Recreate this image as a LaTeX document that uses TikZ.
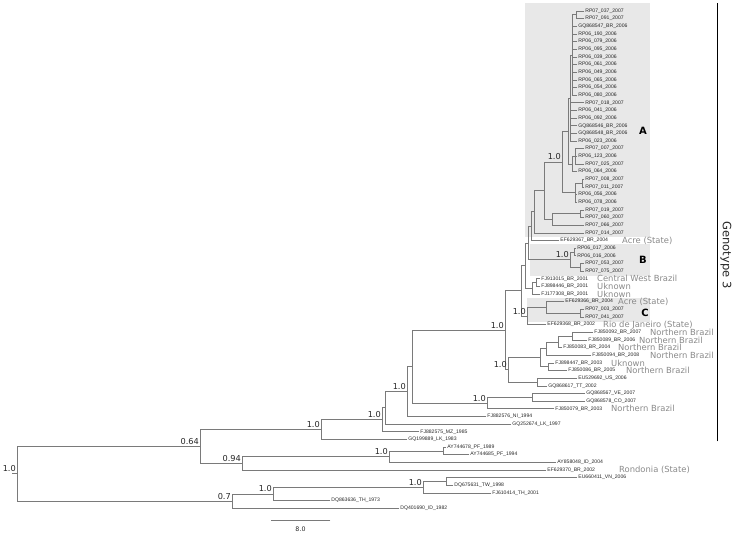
\documentclass[tikz,border=0pt]{standalone}
\usepackage{fontspec}
\setmainfont{DejaVu Sans}
\newfontfamily\tipfont{Liberation Sans}
\definecolor{branchgray}{HTML}{7A7A7A}
\definecolor{placegray}{HTML}{8A8A8A}
\definecolor{cladebg}{HTML}{E8E8E8}

\begin{document}
\begin{tikzpicture}[x=1pt, y=-1pt, line cap=rect,
  every node/.style={inner sep=0pt},
  tip/.style={anchor=west, inner xsep=1.2pt, font=\tipfont\fontsize{5.1}{6}\selectfont, text=black!85},
  place/.style={anchor=west, font=\fontsize{8.4}{10}\selectfont, text=placegray},
  supp/.style={anchor=base east, font=\fontsize{8.2}{10}\selectfont, text=black!85},
  clade/.style={font=\bfseries\fontsize{10}{12}\selectfont},
  br/.style={draw=branchgray, line width=0.75pt}]
  \useasboundingbox (0,0) rectangle (733,533);
  % shaded clades
  \fill[cladebg] (525,3) rectangle (650,237);
  \fill[cladebg] (530,244) rectangle (650,276);
  \fill[cladebg] (527,298) rectangle (650,322);

  % tips
  \node[tip] (t1) at (584,11.0) {RP07\_037\_2007};
  \node[tip] (t2) at (584,18.7) {RP07\_091\_2007};
  \node[tip] (t3) at (577,26.3) {GQ868547\_BR\_2006};
  \node[tip] (t4) at (577,34.0) {RP06\_190\_2006};
  \node[tip] (t5) at (577,41.6) {RP06\_079\_2006};
  \node[tip] (t6) at (577,49.3) {RP06\_095\_2006};
  \node[tip] (t7) at (577,56.9) {RP06\_039\_2006};
  \node[tip] (t8) at (577,64.6) {RP06\_061\_2006};
  \node[tip] (t9) at (577,72.2) {RP06\_049\_2006};
  \node[tip] (t10) at (577,79.9) {RP06\_065\_2006};
  \node[tip] (t11) at (577,87.5) {RP06\_054\_2006};
  \node[tip] (t12) at (577,95.2) {RP06\_080\_2006};
  \node[tip] (t13) at (584,102.8) {RP07\_018\_2007};
  \node[tip] (t14) at (577,110.5) {RP06\_041\_2006};
  \node[tip] (t15) at (577,118.1) {RP06\_092\_2006};
  \node[tip] (t16) at (577,125.8) {GQ868546\_BR\_2006};
  \node[tip] (t17) at (577,133.4) {GQ868548\_BR\_2006};
  \node[tip] (t18) at (577,141.1) {RP06\_023\_2006};
  \node[tip] (t19) at (584,148.7) {RP07\_007\_2007};
  \node[tip] (t20) at (577,156.4) {RP06\_123\_2006};
  \node[tip] (t21) at (584,164.0) {RP07\_025\_2007};
  \node[tip] (t22) at (577,171.7) {RP06\_064\_2006};
  \node[tip] (t23) at (584,179.3) {RP07\_008\_2007};
  \node[tip] (t24) at (584,187.0) {RP07\_011\_2007};
  \node[tip] (t25) at (577,194.6) {RP06\_056\_2006};
  \node[tip] (t26) at (577,202.3) {RP06\_078\_2006};
  \node[tip] (t27) at (584,209.9) {RP07\_019\_2007};
  \node[tip] (t28) at (584,217.6) {RP07\_060\_2007};
  \node[tip] (t29) at (584,225.2) {RP07\_066\_2007};
  \node[tip] (t30) at (584,232.9) {RP07\_014\_2007};
  \node[tip] (t31) at (559,240.5) {EF629367\_BR\_2004};
  \node[tip] (t32) at (576,248.2) {RP06\_017\_2006};
  \node[tip] (t33) at (576,255.8) {RP06\_016\_2006};
  \node[tip] (t34) at (584,263.5) {RP07\_053\_2007};
  \node[tip] (t35) at (584,271.1) {RP07\_075\_2007};
  \node[tip] (t36) at (540,278.8) {FJ913015\_BR\_2001};
  \node[tip] (t37) at (540,286.4) {FJ898446\_BR\_2001};
  \node[tip] (t38) at (540,294.1) {FJ177308\_BR\_2001};
  \node[tip] (t39) at (564,301.7) {EF629366\_BR\_2004};
  \node[tip] (t40) at (584,309.4) {RP07\_003\_2007};
  \node[tip] (t41) at (584,317.0) {RP07\_041\_2007};
  \node[tip] (t42) at (546,324.7) {EF629368\_BR\_2002};
  \node[tip] (t43) at (593,332.3) {FJ850092\_BR\_2007};
  \node[tip] (t44) at (587,340.0) {FJ850089\_BR\_2006};
  \node[tip] (t45) at (562,347.6) {FJ850083\_BR\_2004};
  \node[tip] (t46) at (591,355.3) {FJ850094\_BR\_2008};
  \node[tip] (t47) at (554,362.9) {FJ898447\_BR\_2003};
  \node[tip] (t48) at (567,370.6) {FJ850086\_BR\_2005};
  \node[tip] (t49) at (577,378.2) {EU529692\_US\_2006};
  \node[tip] (t50) at (547,385.9) {GQ868617\_TT\_2002};
  \node[tip] (t51) at (585,393.5) {GQ868567\_VE\_2007};
  \node[tip] (t52) at (585,401.2) {GQ868578\_CO\_2007};
  \node[tip] (t53) at (554,408.8) {FJ850079\_BR\_2003};
  \node[tip] (t54) at (486,416.5) {FJ882576\_NI\_1994};
  \node[tip] (t55) at (511,424.1) {GQ252674\_LK\_1997};
  \node[tip] (t56) at (419,431.8) {FJ882575\_MZ\_1985};
  \node[tip] (t57) at (407,439.4) {GQ199889\_LK\_1983};
  \node[tip] (t58) at (446,447.1) {AY744678\_PF\_1989};
  \node[tip] (t59) at (469,454.7) {AY744685\_PF\_1994};
  \node[tip] (t60) at (556,462.4) {AY858048\_ID\_2004};
  \node[tip] (t61) at (546,470.0) {EF629370\_BR\_2002};
  \node[tip] (t62) at (577,477.7) {EU660411\_VN\_2006};
  \node[tip] (t63) at (453,485.3) {DQ675631\_TW\_1998};
  \node[tip] (t64) at (491,493.0) {FJ610414\_TH\_2001};
  \node[tip] (t65) at (330,500.6) {DQ863636\_TH\_1973};
  \node[tip] (t66) at (399,508.3) {DQ401690\_ID\_1982};

  % places
  \node[place] (p31) at (622,240.5) {Acre (State)};
  \node[place] (p36) at (597,278.8) {Central West Brazil};
  \node[place] (p37) at (597,286.4) {Uknown};
  \node[place] (p38) at (597,294.1) {Uknown};
  \node[place] (p39) at (618,301.7) {Acre (State)};
  \node[place] (p42) at (603,324.7) {Rio de Janeiro (State)};
  \node[place] (p43) at (650,332.3) {Northern Brazil};
  \node[place] (p44) at (639,340.0) {Northern Brazil};
  \node[place] (p45) at (618,347.6) {Northern Brazil};
  \node[place] (p46) at (650,355.3) {Northern Brazil};
  \node[place] (p47) at (611,362.9) {Uknown};
  \node[place] (p48) at (626,370.6) {Northern Brazil};
  \node[place] (p53) at (611,408.8) {Northern Brazil};
  \node[place] (p61) at (619,470.0) {Rondonia (State)};

  % inner nodes
  \coordinate (a1) at (576,14.8);
  \coordinate (L1) at (572,55.0);
  \coordinate (L2) at (570,98.0);
  \coordinate (b1) at (575,156.4);
  \coordinate (bb) at (572,164.0);
  \coordinate (L3) at (568,131.0);
  \coordinate (c1) at (582,183.1);
  \coordinate (cc) at (575,192.7);
  \coordinate (beta) at (562,161.9);
  \coordinate (dd) at (580,213.7);
  \coordinate (gg) at (552,219.5);
  \coordinate (alpha) at (544,190.7);
  \coordinate (gamma) at (534,211.8);
  \coordinate (delta) at (531,226.1);
  \coordinate (bA) at (574,252.0);
  \coordinate (bB) at (580,267.3);
  \coordinate (cladeB) at (570,259.6);
  \coordinate (eps) at (528,242.9);
  \coordinate (f1) at (536,282.6);
  \coordinate (f2) at (532,288.3);
  \coordinate (zeta) at (525,265.6);
  \coordinate (C1) at (580,313.2);
  \coordinate (C2) at (546,307.4);
  \coordinate (cladeC) at (527,316.1);
  \coordinate (brz) at (521,290.8);
  \coordinate (nV) at (572,336.1);
  \coordinate (nU) at (558,341.9);
  \coordinate (nS) at (546,348.6);
  \coordinate (nT) at (548,366.7);
  \coordinate (nQ) at (540,357.6);
  \coordinate (nR) at (537,382.0);
  \coordinate (nP) at (508,369.8);
  \coordinate (g3b) at (505,330.3);
  \coordinate (nW) at (532,397.3);
  \coordinate (n487) at (487,403.1);
  \coordinate (n5) at (412,366.7);
  \coordinate (n4) at (407,391.6);
  \coordinate (n3p) at (385,407.8);
  \coordinate (n3) at (382,419.8);
  \coordinate (n2) at (321,429.6);
  \coordinate (pf) at (443,450.9);
  \coordinate (npf) at (389,456.6);
  \coordinate (n094) at (242,463.3);
  \coordinate (n064) at (200,446.5);
  \coordinate (n447) at (446,481.5);
  \coordinate (n423) at (423,487.2);
  \coordinate (n273) at (273,493.9);
  \coordinate (n07) at (232,501.1);
  \coordinate (root) at (17,473.8);
  \coordinate (rootstub) at (12,473.8);

  % branches
  \draw[br] (a1) |- (t1.west) (a1) |- (t2.west);
  \draw[br] (L1) |- (a1) (L1) |- (t3.west) (L1) |- (t4.west) (L1) |- (t5.west)
    (L1) |- (t6.west) (L1) |- (t7.west) (L1) |- (t8.west) (L1) |- (t9.west)
    (L1) |- (t10.west) (L1) |- (t11.west) (L1) |- (t12.west);
  \draw[br] (L2) |- (L1) (L2) |- (t13.west) (L2) |- (t14.west) (L2) |- (t15.west)
    (L2) |- (t16.west) (L2) |- (t17.west) (L2) |- (t18.west);
  \draw[br] (b1) |- (t19.west) (b1) |- (t20.west) (b1) |- (t21.west);
  \draw[br] (bb) |- (b1) (bb) |- (t22.west);
  \draw[br] (L3) |- (L2) (L3) |- (bb);
  \draw[br] (c1) |- (t23.west) (c1) |- (t24.west);
  \draw[br] (cc) |- (c1) (cc) |- (t25.west) (cc) |- (t26.west);
  \draw[br] (beta) |- (L3) (beta) |- (cc);
  \draw[br] (dd) |- (t27.west) (dd) |- (t28.west);
  \draw[br] (gg) |- (dd) (gg) |- (t29.west);
  \draw[br] (alpha) |- (beta) (alpha) |- (gg);
  \draw[br] (gamma) |- (alpha) (gamma) |- (t30.west);
  \draw[br] (delta) |- (gamma) (delta) |- (t31.west);
  \draw[br] (bA) |- (t32.west) (bA) |- (t33.west);
  \draw[br] (bB) |- (t34.west) (bB) |- (t35.west);
  \draw[br] (cladeB) |- (bA) (cladeB) |- (bB);
  \draw[br] (eps) |- (delta) (eps) |- (cladeB);
  \draw[br] (f1) |- (t36.west) (f1) |- (t37.west);
  \draw[br] (f2) |- (f1) (f2) |- (t38.west);
  \draw[br] (zeta) |- (eps) (zeta) |- (f2);
  \draw[br] (C1) |- (t40.west) (C1) |- (t41.west);
  \draw[br] (C2) |- (t39.west) (C2) |- (C1);
  \draw[br] (cladeC) |- (C2) (cladeC) |- (t42.west);
  \draw[br] (brz) |- (zeta) (brz) |- (cladeC);
  \draw[br] (nV) |- (t43.west) (nV) |- (t44.west);
  \draw[br] (nU) |- (nV) (nU) |- (t45.west);
  \draw[br] (nS) |- (nU) (nS) |- (t46.west);
  \draw[br] (nT) |- (t47.west) (nT) |- (t48.west);
  \draw[br] (nQ) |- (nS) (nQ) |- (nT);
  \draw[br] (nR) |- (t49.west) (nR) |- (t50.west);
  \draw[br] (nP) |- (nQ) (nP) |- (nR);
  \draw[br] (g3b) |- (brz) (g3b) |- (nP);
  \draw[br] (nW) |- (t51.west) (nW) |- (t52.west);
  \draw[br] (n487) |- (nW) (n487) |- (t53.west);
  \draw[br] (n5) |- (g3b) (n5) |- (n487);
  \draw[br] (n4) |- (n5) (n4) |- (t54.west);
  \draw[br] (n3p) |- (n4) (n3p) |- (t55.west);
  \draw[br] (n3) |- (n3p) (n3) |- (t56.west);
  \draw[br] (n2) |- (n3) (n2) |- (t57.west);
  \draw[br] (pf) |- (t58.west) (pf) |- (t59.west);
  \draw[br] (npf) |- (pf) (npf) |- (t60.west);
  \draw[br] (n094) |- (npf) (n094) |- (t61.west);
  \draw[br] (n064) |- (n2) (n064) |- (n094);
  \draw[br] (n447) |- (t62.west) (n447) |- (t63.west);
  \draw[br] (n423) |- (n447) (n423) |- (t64.west);
  \draw[br] (n273) |- (n423) (n273) |- (t65.west);
  \draw[br] (n07) |- (n273) (n07) |- (t66.west);
  \draw[br] (root) |- (n064) (root) |- (n07);
  \draw[br] (rootstub) -- (root);

  % support values
  \node[supp] (sroot) at (16,471.8) {1.0};
  \node[supp] (s064) at (199,444.5) {0.64};
  \node[supp] (s094) at (241,461.3) {0.94};
  \node[supp] (s07) at (231,499.1) {0.7};
  \node[supp] (s273) at (272,491.9) {1.0};
  \node[supp] (s423) at (422,485.2) {1.0};
  \node[supp] (spf) at (388,454.6) {1.0};
  \node[supp] (s2) at (320,427.6) {1.0};
  \node[supp] (s3) at (381,417.8) {1.0};
  \node[supp] (s4) at (406,389.6) {1.0};
  \node[supp] (s487) at (486,401.1) {1.0};
  \node[supp] (sg3b) at (504,328.3) {1.0};
  \node[supp] (sP) at (507,367.8) {1.0};
  \node[supp] (sC) at (526,314.1) {1.0};
  \node[supp] (sB) at (569,257.6) {1.0};
  \node[supp] (sA) at (561,159.9) {1.0};

  % clade letters
  \node[clade] (lA) at (643,131) {A};
  \node[clade] (lB) at (643,259.6) {B};
  \node[clade] (lC) at (645,313) {C};

  % genotype bracket
  \coordinate (g3top) at (717,3);
  \coordinate (g3bot) at (717,441);
  \draw[line width=0.9pt] (g3top) -- (g3bot);
  \node[rotate=-90, font=\fontsize{11.5}{13}\selectfont, text=black!85] (g3) at (726,255) {Genotype 3};

  % scale bar
  \coordinate (sb1) at (271,520);
  \coordinate (sb2) at (330,520);
  \draw[br] (sb1) -- (sb2);
  \node[font=\fontsize{6.3}{7}\selectfont, text=black!85] (sbl) at (300.5,529) {8.0};
\end{tikzpicture}
\end{document}
